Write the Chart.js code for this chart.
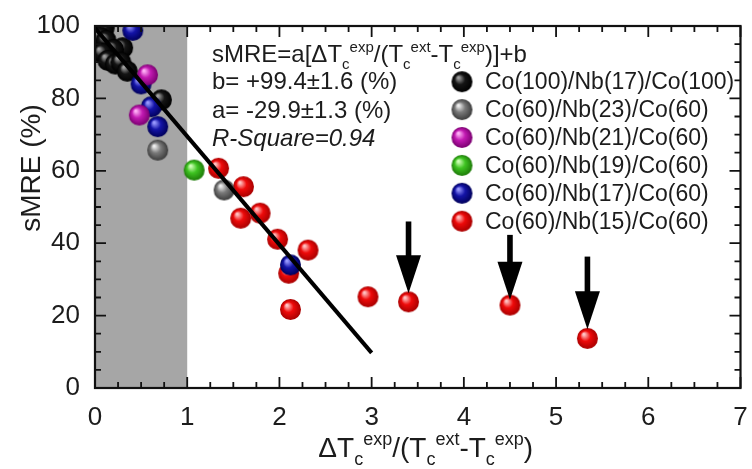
<!DOCTYPE html>
<html>
<head>
<meta charset="utf-8">
<script src="https://cdn.jsdelivr.net/npm/chart.js@4.4.1/dist/chart.umd.min.js"></script>
<style>
  html, body { margin: 0; padding: 0; background: #fff; }
  #wrap { width: 752px; height: 469px; }
</style>
</head>
<body>
<div id="wrap"><canvas id="chart" width="752" height="469"></canvas></div>
<script>
// x = ΔTc_exp / (Tc_ext - Tc_exp), y = sMRE (%)
const co100nb17 = [[0.02, 100], [0.10, 99.5], [0.05, 97], [0.12, 96], [0.30, 94], [0.20, 93.5], [0.08, 92.5],
                   [0.14, 90.5], [0.22, 89.5], [0.28, 90], [0.35, 87.5], [0.72, 79.6]];
const co60nb23 = [[0.68, 65.7], [1.40, 54.7]];
const co60nb21 = [[0.57, 86.5], [0.48, 75.4]];
const co60nb19 = [[1.075, 60.2]];
const co60nb17 = [[0.41, 98.8], [0.50, 84], [0.61, 77.7], [0.68, 72.2], [2.12, 34]];
const co60nb15 = [[1.34, 60.7], [1.61, 55.6], [1.58, 46.9], [1.79, 48.3], [1.98, 41.1], [2.31, 38.1],
                  [2.10, 31.7], [2.12, 21.7], [2.96, 25.2], [3.40, 23.8], [4.50, 22.9], [5.34, 13.7]];

// linear fit: sMRE = a * x + b
const fitA = -29.9;
const fitB = 99.4;
const fitRange = [0, 3];

// shaded band on x
const shadeRange = [0, 1];

// down arrows: [x, y start, y tip]
const arrows = [[3.40, 46, 26.2], [4.50, 42.3, 24.4], [5.34, 36.3, 16.2]];

const xTicks = [0, 1, 2, 3, 4, 5, 6, 7];
const yTicks = [0, 20, 40, 60, 80, 100];

const FONT = '"Liberation Sans", Arial, sans-serif';
const INK = '#1c1c1c';

// shaded sphere sprite used as point style
function ball(light, base, dark, r) {
  const c = document.createElement('canvas');
  c.width = c.height = Math.ceil(r * 2 + 2);
  const g = c.getContext('2d');
  const m = c.width / 2;
  const grad = g.createRadialGradient(m - r * 0.35, m - r * 0.4, r * 0.08, m, m, r);
  grad.addColorStop(0, light);
  grad.addColorStop(0.45, base);
  grad.addColorStop(1, dark);
  g.fillStyle = grad;
  g.beginPath();
  g.arc(m, m, r, 0, Math.PI * 2);
  g.fill();
  return c;
}

const R = 10.5;
const series = [
  { label: 'Co(100)/Nb(17)/Co(100)', data: co100nb17, sprite: ball('#a0a0a0', '#151515', '#000000', R), order: 2 },
  { label: 'Co(60)/Nb(23)/Co(60)', data: co60nb23, sprite: ball('#f0f0f0', '#7a7a7a', '#3c3c3c', R), order: 4 },
  { label: 'Co(60)/Nb(21)/Co(60)', data: co60nb21, sprite: ball('#ffb0f6', '#c21ab2', '#7a0070', R), order: 0 },
  { label: 'Co(60)/Nb(19)/Co(60)', data: co60nb19, sprite: ball('#d0ffb8', '#3fc422', '#1d7a08', R), order: 3 },
  { label: 'Co(60)/Nb(17)/Co(60)', data: co60nb17, sprite: ball('#9a9aff', '#1414a8', '#00005a', R), order: 1 },
  { label: 'Co(60)/Nb(15)/Co(60)', data: co60nb15, sprite: ball('#ffc4c4', '#ee0a0a', '#a80000', R), order: 5 }
];

const datasets = series.map(s => ({
  label: s.label,
  data: s.data.map(p => ({ x: p[0], y: p[1] })),
  pointStyle: s.sprite,
  pointRadius: R,
  order: s.order
}));

datasets.push({
  type: 'line',
  label: 'fit',
  data: fitRange.map(x => ({ x: x, y: fitB + fitA * x })),
  borderColor: '#000',
  borderWidth: 4,
  pointRadius: 0,
  order: -1
});

// draws runs of text with subscripts / superscripts
function richText(ctx, runs, x, y, size, align, style) {
  const small = Math.round(size * 0.64);
  const fontOf = r => (style || '') + ' ' + (r[1] ? small : size) + 'px ' + FONT;
  let total = 0;
  runs.forEach(r => { ctx.font = fontOf(r); total += ctx.measureText(r[0]).width; });
  let cx = align === 'center' ? x - total / 2 : x;
  ctx.textAlign = 'left';
  ctx.textBaseline = 'alphabetic';
  runs.forEach(r => {
    ctx.font = fontOf(r);
    const dy = r[1] === 'sub' ? size * 0.3 : r[1] === 'sup' ? -size * 0.42 : 0;
    ctx.fillText(r[0], cx, y + dy);
    cx += ctx.measureText(r[0]).width;
  });
}

const ratio = [['ΔT'], ['c', 'sub'], ['exp', 'sup'], ['/(T'], ['c', 'sub'], ['ext', 'sup'],
               ['-T'], ['c', 'sub'], ['exp', 'sup'], [')']];

const framePlugin = {
  id: 'frame',
  beforeDatasetsDraw(chart) {
    const { ctx, chartArea: a, scales: { x } } = chart;
    ctx.save();
    ctx.fillStyle = '#a6a6a6';
    const x0 = x.getPixelForValue(shadeRange[0]);
    const x1 = x.getPixelForValue(shadeRange[1]);
    ctx.fillRect(x0, a.top, x1 - x0, a.bottom - a.top);
    ctx.restore();
  },
  afterDatasetsDraw(chart) {
    const { ctx, chartArea: a, scales: { x, y } } = chart;
    ctx.save();

    // arrows
    ctx.fillStyle = '#000';
    ctx.strokeStyle = '#000';
    arrows.forEach(ar => {
      const px = x.getPixelForValue(ar[0]);
      const top = y.getPixelForValue(ar[1]);
      const tip = y.getPixelForValue(ar[2]);
      const head = 38;
      ctx.fillRect(px - 2.8, top, 5.6, tip - top - head + 2);
      ctx.beginPath();
      ctx.moveTo(px - 12.5, tip - head);
      ctx.lineTo(px + 12.5, tip - head);
      ctx.lineTo(px, tip);
      ctx.closePath();
      ctx.fill();
    });

    // frame and inward ticks on all four sides
    ctx.lineWidth = 2.2;
    ctx.strokeStyle = '#111';
    ctx.strokeRect(a.left, a.top, a.right - a.left, a.bottom - a.top);
    ctx.lineWidth = 1.8;
    ctx.beginPath();
    for (let k = 0; k <= 28; k++) {
      const v = k * 0.25;
      const len = k % 4 === 0 ? 11 : 6;
      const px = x.getPixelForValue(v);
      ctx.moveTo(px, a.bottom); ctx.lineTo(px, a.bottom - len);
      ctx.moveTo(px, a.top); ctx.lineTo(px, a.top + len);
    }
    for (let k = 0; k <= 20; k++) {
      const v = k * 5;
      const len = k % 4 === 0 ? 11 : 6;
      const py = y.getPixelForValue(v);
      ctx.moveTo(a.left, py); ctx.lineTo(a.left + len, py);
      ctx.moveTo(a.right, py); ctx.lineTo(a.right - len, py);
    }
    ctx.stroke();

    // legend
    ctx.fillStyle = INK;
    ctx.font = '23px ' + FONT;
    ctx.textAlign = 'left';
    ctx.textBaseline = 'middle';
    series.forEach((s, i) => {
      const cy = 81.7 + i * 27.9;
      ctx.drawImage(s.sprite, 462 - s.sprite.width / 2, cy - s.sprite.height / 2);
      ctx.fillText(s.label, 485, cy + 1);
    });

    // fit annotation
    richText(ctx, [['sMRE=a[']].concat(ratio, [[']+b']]), 212, 62, 24);
    richText(ctx, [['b= +99.4±1.6 (%)']], 212, 89, 24);
    richText(ctx, [['a= -29.9±1.3 (%)']], 212, 118, 24);
    richText(ctx, [['R-Square=0.94']], 212, 146, 24, 'left', 'italic');

    // axis titles
    richText(ctx, ratio, (a.left + a.right) / 2 + 8, 457, 28, 'center');
    ctx.save();
    ctx.translate(32, 168);
    ctx.rotate(-Math.PI / 2);
    ctx.font = '28px ' + FONT;
    ctx.textAlign = 'center';
    ctx.textBaseline = 'middle';
    ctx.fillText('sMRE (%)', 0, 0);
    ctx.restore();

    ctx.restore();
  }
};

const tickFont = { family: FONT, size: 26 };

new Chart(document.getElementById('chart'), {
  type: 'scatter',
  data: { datasets: datasets },
  options: {
    responsive: false,
    animation: false,
    devicePixelRatio: 1,
    layout: { padding: { top: 26, right: 6, left: 0, bottom: 0 } },
    plugins: { legend: { display: false }, tooltip: { enabled: false } },
    scales: {
      x: {
        type: 'linear', min: 0, max: 7,
        afterBuildTicks: s => { s.ticks = xTicks.map(v => ({ value: v })); },
        afterFit: s => { s.height = 81; s.paddingLeft = 0; s.paddingRight = 0; },
        grid: { display: false },
        border: { display: false },
        ticks: { font: tickFont, color: INK, padding: 6, maxRotation: 0, autoSkip: false }
      },
      y: {
        type: 'linear', min: 0, max: 100,
        afterBuildTicks: s => { s.ticks = yTicks.map(v => ({ value: v })); },
        afterFit: s => { s.width = 95; s.paddingTop = 0; s.paddingBottom = 0; },
        grid: { display: false },
        border: { display: false },
        ticks: { font: tickFont, color: INK, padding: 7, autoSkip: false }
      }
    }
  },
  plugins: [framePlugin]
});
</script>
</body>
</html>
